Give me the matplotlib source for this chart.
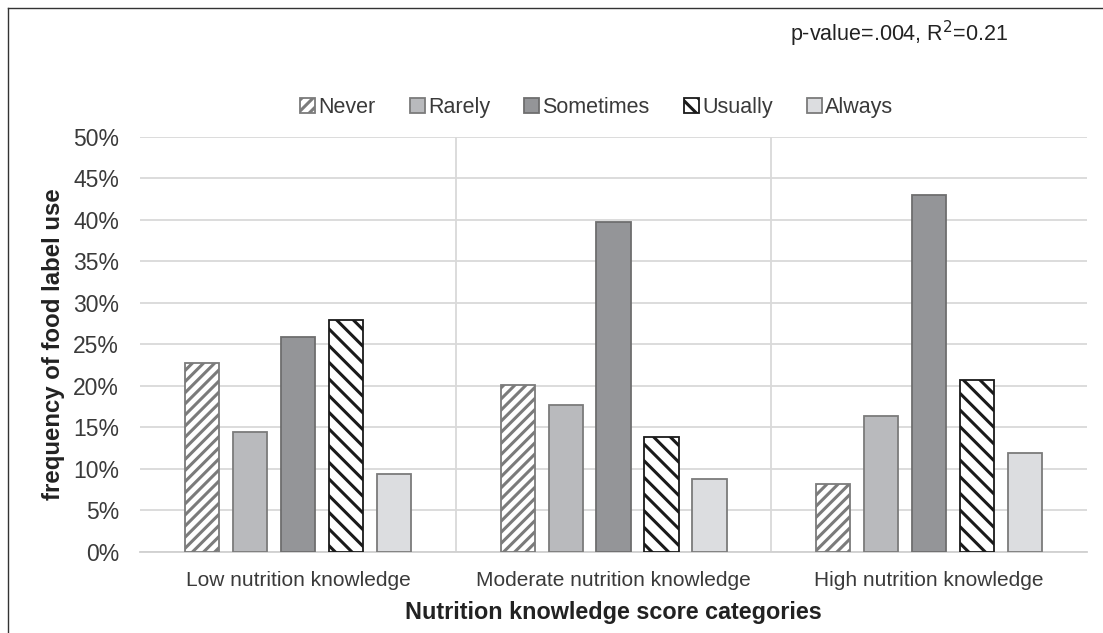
import numpy as np
import matplotlib
matplotlib.use("Agg")
import matplotlib.pyplot as plt
from matplotlib.lines import Line2D
from matplotlib.ticker import PercentFormatter

plt.rcParams['font.family'] = ['Liberation Sans', 'DejaVu Sans']
plt.rcParams['hatch.linewidth'] = 2.2

categories = ["Low nutrition knowledge", "Moderate nutrition knowledge", "High nutrition knowledge"]
series = ["Never", "Rarely", "Sometimes", "Usually", "Always"]
never = [22.8, 20.1, 8.2]
rarely = [14.5, 17.7, 16.4]
sometimes = [25.9, 39.8, 43.0]
usually = [27.9, 13.9, 20.7]
always = [9.4, 8.8, 11.9]
values = [never, rarely, sometimes, usually, always]

# style per series: face, edge, hatch
styles = [("white", "#7b7b7b", "///"),
          ("#b9babd", "#7b7b7b", None),
          ("#949598", "#6e6e6e", None),
          ("white", "#1a1a1a", "\\\\"),
          ("#dcdde0", "#7b7b7b", None)]

fig = plt.figure(figsize=(11.03, 6.33), dpi=100)
ax = fig.add_axes([0.127, 0.128, 0.8585, 0.6556])

x = np.arange(len(categories))
step = 0.152
width = 0.108
for i, (name, vals) in enumerate(zip(series, values)):
    fc, ec, h = styles[i]
    ax.bar(x + (i - 2) * step, vals, width, facecolor=fc, edgecolor=ec,
           hatch=h, linewidth=1.3, label=name, zorder=3)

ax.set_xlim(-0.5, 2.5)
ax.set_ylim(0, 50)
ax.set_yticks(np.arange(0, 51, 5))
ax.yaxis.set_major_formatter(PercentFormatter(decimals=0))
ax.yaxis.grid(True, color="#d9d9d9", linewidth=1.3, zorder=0)
for sep in [0.5, 1.5]:
    ax.axvline(sep, color="#d9d9d9", linewidth=1.3, zorder=0)
for s in ["left", "right", "top"]:
    ax.spines[s].set_visible(False)
ax.spines["bottom"].set_color("#d0d0d0")
ax.spines["bottom"].set_linewidth(1.3)
ax.tick_params(axis="both", length=0, colors="#3a3a3a")
ax.tick_params(axis="y", labelsize=16.5, pad=15)
ax.tick_params(axis="x", labelsize=15, pad=14)
ax.set_xticks(x)
ax.set_xticklabels(categories)

ax.set_ylabel("frequency of food label use", fontsize=17.3, fontweight="bold", labelpad=6)
ax.set_xlabel("Nutrition knowledge score categories", fontsize=16.8, fontweight="bold")
ax.xaxis.set_label_coords(0.5, -0.118)
ax.xaxis.label.set_color("#222222")
ax.yaxis.label.set_color("#222222")

leg = ax.legend(loc="center", bbox_to_anchor=(0.482, 1.07), ncol=5, frameon=False,
                fontsize=15.5, handlelength=0.7, handleheight=0.7, handletextpad=0.15,
                columnspacing=1.58, borderaxespad=0)
for t in leg.get_texts():
    t.set_color("#3a3a3a")

fig.text(0.716, 0.947, r"p-value=.004, R$^2$=0.21", fontsize=15.5,
         color="#222222", va="center")

# outer frame lines
fig.add_artist(Line2D([0.0075, 1.0], [0.987, 0.987], color="#333333", linewidth=1))
fig.add_artist(Line2D([0.0075, 0.0075], [0.0, 0.987], color="#333333", linewidth=1))

plt.savefig("out.png", dpi=100)
